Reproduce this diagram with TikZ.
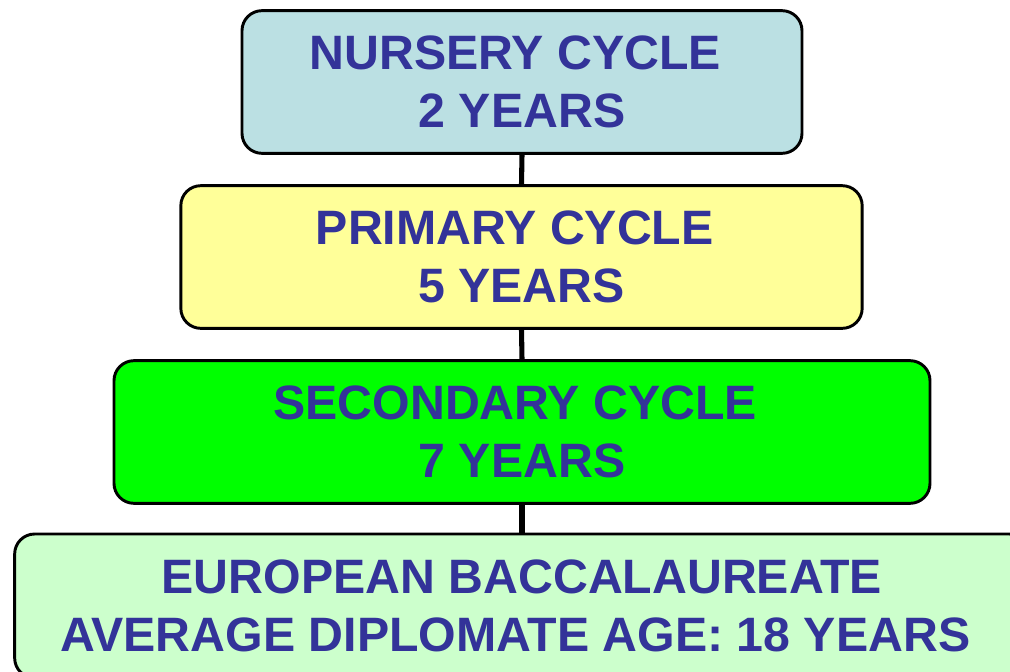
\documentclass[tikz,border=0pt]{standalone}
\usepackage{fontspec}
\setmainfont{Liberation Sans}
\definecolor{txtblue}{HTML}{333399}
\definecolor{nursfill}{HTML}{BBE0E3}
\definecolor{primfill}{HTML}{FFFF99}
\definecolor{secfill}{HTML}{00FF00}
\definecolor{bacfill}{HTML}{CCFFCC}
\tikzset{cycle/.style = {draw=black, line width=2.2pt, rounded corners=15pt,
    align=center, text=txtblue, inner sep=0pt,
    font=\bfseries\fontsize{36.2}{43.5}\selectfont},
  link/.style = {line width=3.8pt}}
% trailing blank kept at line end
\newcommand{\tspace}{\ \mbox{}}

\begin{document}
\begin{tikzpicture}[x=0.75pt,y=0.75pt]
    \useasboundingbox (0,0) rectangle (1010,-671);

        \node[cycle,fill=nursfill,minimum width=420pt,minimum height=107pt](nursery)at(522,-82){NURSERY CYCLE\tspace\\2 YEARS};
        \node[cycle,fill=primfill,minimum width=511pt,minimum height=107pt](primary)at(521.5,-257){PRIMARY CYCLE\tspace\\5 YEARS};
        \node[cycle,fill=secfill,minimum width=612pt,minimum height=107pt](secondary)at(522,-432){SECONDARY CYCLE\tspace\\7 YEARS};
        \node[cycle,fill=bacfill,minimum width=761pt,minimum height=108pt](bac)at(522,-606){EUROPEAN BACCALAUREATE\\AVERAGE DIPLOMATE AGE: 18 YEARS\tspace};

        \draw[link](nursery.south)--(primary.north);
        \draw[link](primary.south)--(secondary.north);
        \draw[link](secondary.south)--(bac.north);
\end{tikzpicture}
\end{document}
